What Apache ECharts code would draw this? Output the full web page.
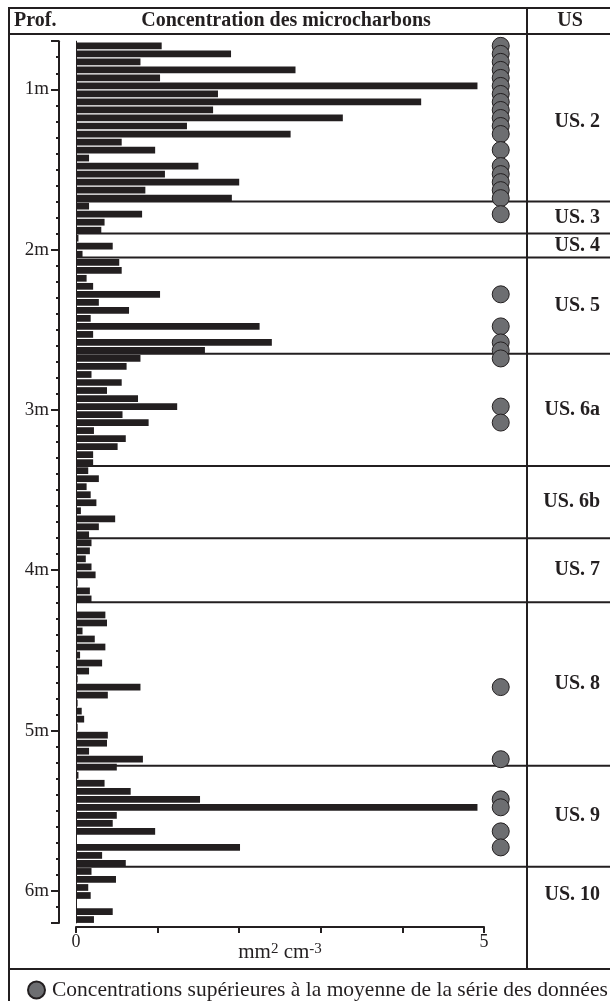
<!DOCTYPE html>
<html>
<head>
<meta charset="utf-8">
<script src="https://cdn.jsdelivr.net/npm/echarts@6/dist/echarts.min.js"></script>
<style>
html,body{margin:0;padding:0;background:#fff;}
#c{width:610px;height:1001px;}
</style>
</head>
<body>
<div id="c"></div>
<script>
// ---- data ----
// top depth of each sample (cm)
const sampleDepthCm = [
  70,75,80,85,90,95,100,105,110,115,
  120,125,130,135,140,145,150,155,160,165,
  170,175,180,185,190,195,200,205,210,215,
  220,225,230,235,240,245,250,255,260,265,
  270,275,280,285,290,295,300,305,310,315,
  320,325,330,335,340,345,350,355,360,365,
  370,375,380,385,390,395,400,405,410,415,
  420,425,430,435,440,445,450,455,460,465,
  470,475,480,485,490,495,500,505,510,515,
  520,525,530,535,540,545,550,555,560,565,
  570,575,580,585,590,595,600,605,610,615
];
// microcharcoal concentration (mm2 cm-3)
const concentration = [
  1.05,1.90,0.79,2.69,1.03,4.92,1.74,4.23,1.68,3.27,
  1.36,2.63,0.56,0.97,0.16,1.50,1.09,2.00,0.85,1.91,
  0.16,0.81,0.35,0.31,0.03,0.45,0.08,0.53,0.56,0.13,
  0.21,1.03,0.28,0.65,0.18,2.25,0.21,2.40,1.58,0.79,
  0.62,0.19,0.56,0.38,0.76,1.24,0.57,0.89,0.22,0.61,
  0.51,0.21,0.21,0.15,0.28,0.13,0.18,0.25,0.06,0.48,
  0.28,0.16,0.19,0.17,0.12,0.19,0.24,0.02,0.17,0.19,
  0.01,0.36,0.38,0.08,0.23,0.36,0.05,0.32,0.16,0.02,
  0.79,0.39,0.02,0.07,0.10,0.02,0.39,0.38,0.16,0.82,
  0.50,0.03,0.35,0.67,1.52,4.92,0.50,0.45,0.97,0.01,
  2.01,0.32,0.61,0.19,0.49,0.15,0.18,0.01,0.45,0.22
];
// samples above the series mean (top depth, cm)
const aboveMeanDepthCm = [70,75,80,85,90,95,100,105,110,115,120,125,135,145,150,155,160,165,175,225,245,255,260,265,295,305,470,515,540,545,560,570];
// stratigraphic units
const usNames = ['US. 2','US. 3','US. 4','US. 5','US. 6a','US. 6b','US. 7','US. 8','US. 9','US. 10'];
const usBounds = [0.70,1.70,1.90,2.05,2.65,3.35,3.80,4.20,5.22,5.85,6.20];
// depth axis ticks (m)
const depthTicks = ['0.7','0.8','0.9','1','1.1','1.2','1.3','1.4','1.5','1.6','1.7','1.8','1.9','2','2.1','2.2','2.3','2.4','2.5','2.6','2.7','2.8','2.9','3','3.1','3.2','3.3','3.4','3.5','3.6','3.7','3.8','3.9','4','4.1','4.2','4.3','4.4','4.5','4.6','4.7','4.8','4.9','5','5.1','5.2','5.3','5.4','5.5','5.6','5.7','5.8','5.9','6','6.1','6.2'];
const xTickLabels = ['0','5'];
const legendText = 'Concentrations supérieures à la moyenne de la série des données';

// ---- build ----
const INK = '#231f20';
const FONT = 'Liberation Serif';
const barData = sampleDepthCm.map((d, i) => [d / 100, concentration[i]]);
const MARKER_X = 5.205;
const markerData = aboveMeanDepthCm.map(d => [MARKER_X, d / 100 + 0.029]);
const usData = usNames.map((n, i) => [usBounds[i], usBounds[i + 1], i]);
const boundaryData = usBounds.slice(1, -1).map(d => [0, d]);
const isMajor = v => Math.abs(parseFloat(v) - Math.round(parseFloat(v))) < 1e-6;

const chart = echarts.init(document.getElementById('c'), null, {renderer: 'canvas'});
chart.setOption({
  animation: false,
  backgroundColor: '#fff',
  textStyle: {fontFamily: FONT, color: INK},
  grid: {left: 76, top: 41.2, width: 408, height: 881.7},
  legend: {
    left: 27, top: 979, padding: 0, itemWidth: 17, itemHeight: 17, itemGap: 0,
    data: [{name: legendText, icon: 'circle'}],
    textStyle: {fontFamily: FONT, fontSize: 21.5, color: INK, padding: [0,0,0,2]}
  },
  xAxis: {
    type: 'value', min: 0, max: 5, interval: 1, position: 'bottom', offset: 4,
    axisLine: {show: true, lineStyle: {color: INK, width: 2}},
    axisTick: {show: true, length: 6, lineStyle: {color: INK, width: 2}},
    splitLine: {show: false},
    axisLabel: {
      fontFamily: FONT, fontSize: 18, color: INK, margin: 6,
      formatter: v => xTickLabels.indexOf(String(v)) >= 0 ? String(v) : ''
    },
    name: 'mm{sup|2} cm{sup|-3}', nameLocation: 'middle', nameGap: 15, nameMoveOverlap: false,
    nameTextStyle: {
      fontFamily: FONT, fontSize: 21, color: INK, verticalAlign: 'top',
      rich: {sup: {fontFamily: FONT, fontSize: 15, color: INK, verticalAlign: 'top'}}
    }
  },
  yAxis: [
    {
      type: 'value', min: 0.7, max: 6.2, inverse: true,
      axisLine: {show: true, onZero: false, lineStyle: {color: INK, width: 1}},
      axisTick: {show: false}, axisLabel: {show: false}, splitLine: {show: false}
    },
    {
      type: 'category', data: depthTicks, inverse: true, boundaryGap: false,
      position: 'left', offset: 17,
      axisLine: {show: true, onZero: false, lineStyle: {color: INK, width: 2}},
      axisTick: {show: true, interval: 0, length: 3, lineStyle: {color: INK, width: 2}},
      axisLabel: {show: false}, splitLine: {show: false}
    },
    {
      type: 'category', data: depthTicks, inverse: true, boundaryGap: false,
      position: 'left', offset: 17,
      axisLine: {show: false, onZero: false},
      axisTick: {show: true, interval: (i, v) => isMajor(v) || i === 0 || i === depthTicks.length - 1, length: 8, lineStyle: {color: INK, width: 2}},
      axisLabel: {
        show: true, interval: 0, margin: 10, fontFamily: FONT, fontSize: 19, color: INK,
        formatter: v => isMajor(v) ? Math.round(parseFloat(v)) + 'm' : ''
      },
      splitLine: {show: false}
    }
  ],
  series: [
    {
      type: 'custom', name: 'bars', xAxisIndex: 0, yAxisIndex: 0, clip: false,
      data: barData,
      renderItem: (params, api) => {
        const top = api.value(0), v = api.value(1);
        const p0 = api.coord([0, top + 0.008]);
        const p1 = api.coord([v, top + 0.05]);
        return {type: 'rect', shape: {x: p0[0], y: p0[1], width: Math.max(p1[0] - p0[0], 1), height: p1[1] - p0[1]}, style: {fill: INK}};
      }
    },
    {
      type: 'custom', name: 'boundaries', xAxisIndex: 0, yAxisIndex: 0, clip: false,
      data: boundaryData,
      renderItem: (params, api) => {
        const p = api.coord([0, api.value(1)]);
        return {type: 'line', shape: {x1: p[0], y1: p[1], x2: api.getWidth(), y2: p[1]}, style: {stroke: INK, lineWidth: 2}};
      },
      z: 3
    },
    {
      type: 'custom', name: 'units', xAxisIndex: 0, yAxisIndex: 0, clip: false,
      data: usData,
      renderItem: (params, api) => {
        const a = api.coord([0, api.value(0)]), b = api.coord([0, api.value(1)]);
        return {type: 'text', x: 600, y: (a[1] + b[1]) / 2,
          style: {text: usNames[api.value(2)], textAlign: 'right', textVerticalAlign: 'middle', font: 'bold 20px "Liberation Serif"', fill: INK}};
      }
    },
    {
      type: 'scatter', name: legendText, xAxisIndex: 0, yAxisIndex: 0, clip: false,
      data: markerData, symbol: 'circle', symbolSize: 17,
      itemStyle: {color: '#6d6e71', borderColor: INK, borderWidth: 1, opacity: 1},
      z: 4
    }
  ],
  graphic: [
    {type: 'line', shape: {x1: 9, y1: 8, x2: 610, y2: 8}, style: {stroke: INK, lineWidth: 2}},
    {type: 'line', shape: {x1: 9, y1: 34, x2: 610, y2: 34}, style: {stroke: INK, lineWidth: 2}},
    {type: 'line', shape: {x1: 9, y1: 7, x2: 9, y2: 1001}, style: {stroke: INK, lineWidth: 2}},
    {type: 'line', shape: {x1: 527, y1: 7, x2: 527, y2: 969}, style: {stroke: INK, lineWidth: 2}},
    {type: 'line', shape: {x1: 9, y1: 969, x2: 610, y2: 969}, style: {stroke: INK, lineWidth: 2}},
    {type: 'text', x: 14, y: 21, style: {text: 'Prof.', textVerticalAlign: 'middle', font: 'bold 20px "Liberation Serif"', fill: INK}},
    {type: 'text', x: 286, y: 21, style: {text: 'Concentration des microcharbons', textAlign: 'center', textVerticalAlign: 'middle', font: 'bold 20px "Liberation Serif"', fill: INK}},
    {type: 'text', x: 570, y: 21, style: {text: 'US', textAlign: 'center', textVerticalAlign: 'middle', font: 'bold 20px "Liberation Serif"', fill: INK}}
  ]
});
</script>
</body>
</html>
